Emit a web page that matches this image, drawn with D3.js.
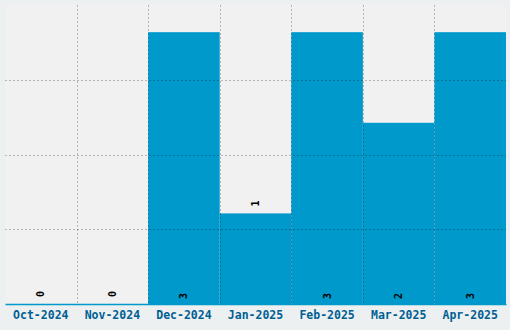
<!DOCTYPE html>
<html>
<head>
<meta charset="utf-8">
<script src="https://cdn.jsdelivr.net/npm/d3@7"></script>
<style>
  html, body { margin: 0; padding: 0; background: #edf0f1; }
  svg { display: block; }
</style>
</head>
<body>
<div id="chart"></div>
<script>
const months = ['Oct-2024', 'Nov-2024', 'Dec-2024', 'Jan-2025', 'Feb-2025', 'Mar-2025', 'Apr-2025'];
const counts = [0, 0, 3, 1, 3, 2, 3];
const yMax = 3.3;
const gridCount = 4;

const width = 510, height = 330;
const margin = { top: 5, right: 4, bottom: 26, left: 5 };
const innerW = width - margin.left - margin.right;
const innerH = height - margin.top - margin.bottom;

const svg = d3.select('#chart')
  .append('svg')
  .attr('width', width)
  .attr('height', height);

const g = svg.append('g')
  .attr('transform', `translate(${margin.left},${margin.top})`);

const x = d3.scaleBand().domain(months).range([0, innerW]).padding(0);
const y = d3.scaleLinear().domain([0, yMax]).range([innerH, 0]);

g.append('rect')
  .attr('width', innerW)
  .attr('height', innerH)
  .attr('fill', '#f1f1f1');

const data = months.map((m, i) => ({ month: m, value: counts[i] }));

// bars
g.selectAll('.bar')
  .data(data)
  .enter()
  .append('rect')
  .attr('class', 'bar')
  .attr('x', d => x(d.month))
  .attr('width', x.bandwidth())
  .attr('y', d => y(d.value))
  .attr('height', d => innerH - y(d.value))
  .attr('fill', '#0099cc');

// grid lines over the bars
const gridTicks = d3.range(1, gridCount).map(i => yMax * i / gridCount);
g.selectAll('.hgrid')
  .data(gridTicks)
  .enter()
  .append('line')
  .attr('x1', 0)
  .attr('x2', innerW)
  .attr('y1', d => Math.round(y(d)) + 0.5)
  .attr('y2', d => Math.round(y(d)) + 0.5)
  .attr('stroke', 'rgba(0,0,0,0.25)')
  .attr('stroke-dasharray', '2,2');

g.selectAll('.vgrid')
  .data(months.slice(1))
  .enter()
  .append('line')
  .attr('x1', d => Math.round(x(d)) + 0.5)
  .attr('x2', d => Math.round(x(d)) + 0.5)
  .attr('y1', 0)
  .attr('y2', innerH)
  .attr('stroke', 'rgba(0,0,0,0.25)')
  .attr('stroke-dasharray', '2,2');

// value labels
g.selectAll('.val')
  .data(data)
  .enter()
  .append('text')
  .attr('class', 'val')
  .attr('transform', d => {
    const cx = x(d.month) + x.bandwidth() / 2;
    const cy = d.value >= 2 ? innerH - 5 : y(d.value) - 7;
    return `translate(${cx},${cy}) rotate(-90)`;
  })
  .attr('dy', '0.35em')
  .attr('text-anchor', 'start')
  .style('font-family', '"DejaVu Sans Mono", monospace')
  .style('font-weight', 'bold')
  .style('font-size', '10px')
  .attr('fill', '#000')
  .text(d => d.value);

// bottom axis
const xAxis = g.append('g')
  .attr('transform', `translate(0,${innerH})`)
  .call(d3.axisBottom(x).tickSize(0).tickPadding(7));
xAxis.select('.domain').attr('stroke', '#0099cc').attr('stroke-width', 1.5);
xAxis.selectAll('text')
  .style('font-family', '"DejaVu Sans Mono", monospace')
  .style('font-weight', 'bold')
  .style('font-size', '11.5px')
  .attr('fill', '#005f93');
</script>
</body>
</html>
